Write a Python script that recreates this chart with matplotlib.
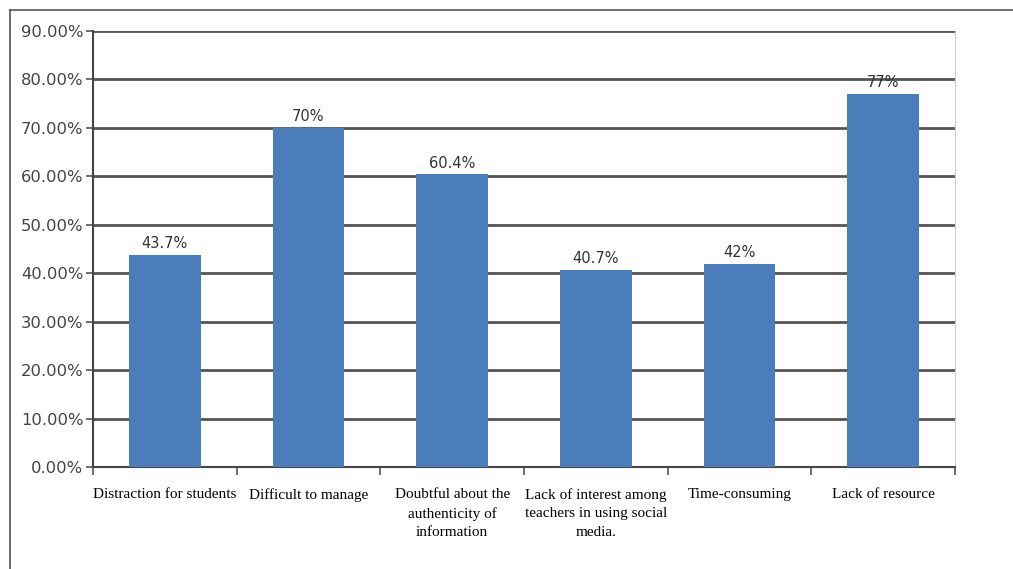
import numpy as np
import matplotlib
matplotlib.use('Agg')
import matplotlib.pyplot as plt
from matplotlib.lines import Line2D
from matplotlib.ticker import FuncFormatter

# data
categories = ['Distraction for students', 'Difficult to manage',
              'Doubtful about the\nauthenticity of\ninformation',
              'Lack of interest among\nteachers in using social\nmedia.',
              'Time-consuming', 'Lack of resource']
values = [43.7, 70, 60.4, 40.7, 42, 77]
value_labels = ['43.7%', '70%', '60.4%', '40.7%', '42%', '77%']
yticks = [0, 10, 20, 30, 40, 50, 60, 70, 80, 90]

fig = plt.figure(figsize=(10.13, 5.69), dpi=100)
ax = fig.add_axes([0.0918, 0.1793, 0.8509, 0.7662])

x = np.arange(len(categories))
ax.bar(x, values, width=0.5, color='#4a7ebb', zorder=3)

for xi, v, lab in zip(x, values, value_labels):
    ax.text(xi, v + 0.8, lab, ha='center', va='bottom', fontsize=10.5,
            color='#333333', family='DejaVu Sans')

ax.set_xlim(-0.5, len(categories) - 0.5)
ax.set_ylim(0, 90)
ax.set_yticks(yticks)
ax.yaxis.set_major_formatter(FuncFormatter(lambda v, p: f'{v:.2f}%'))
ax.grid(axis='y', color='#555555', linewidth=2, zorder=0)
ax.tick_params(axis='y', labelsize=11.8, labelcolor='#444444', length=5,
               width=1.2, color='#555555', pad=2)

# category labels sit between boundary ticks
ax.set_xticks(x)
ax.set_xticklabels(categories, family='Liberation Serif', fontsize=11,
                   color='#000000', linespacing=1.55)
ax.tick_params(axis='x', length=0, pad=15)
ax.set_xticks(np.arange(len(categories) + 1) - 0.5, minor=True)
ax.tick_params(axis='x', which='minor', length=6, width=1.2, color='#555555')

for s in ['left', 'bottom']:
    ax.spines[s].set_color('#444444')
    ax.spines[s].set_linewidth(1.5)
ax.spines['top'].set_visible(False)
ax.spines['right'].set_color('#cccccc')

# outer frame of the screenshot (top and left only)
fig.add_artist(Line2D([10 / 1013, 1], [1 - 10 / 569, 1 - 10 / 569],
                      transform=fig.transFigure, color='#555555', lw=1.2))
fig.add_artist(Line2D([10 / 1013, 10 / 1013], [0, 1 - 10 / 569],
                      transform=fig.transFigure, color='#555555', lw=1.2))

fig.savefig('out.png', dpi=100)
